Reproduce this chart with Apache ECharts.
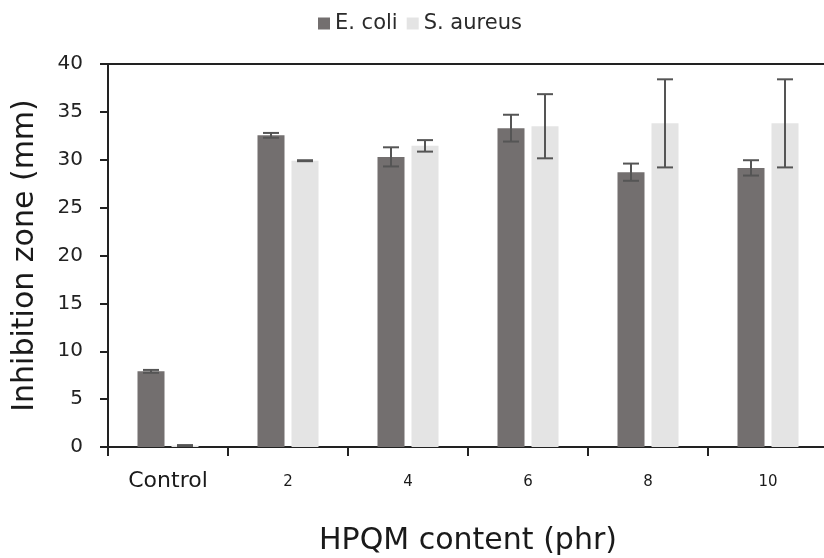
<!DOCTYPE html>
<html>
<head>
<meta charset="utf-8">
<script src="https://cdn.jsdelivr.net/npm/echarts@6/dist/echarts.min.js"></script>
<style>html,body{margin:0;padding:0;background:#fff}#c{width:824px;height:558px}</style>
</head>
<body>
<div id="c"></div>
<script>
const categories = ['Control', '2', '4', '6', '8', '10'];
const ecoli = [7.9, 32.55, 30.3, 33.3, 28.7, 29.15];
const ecoliErr = [0.15, 0.25, 1.0, 1.4, 0.9, 0.8];
const saureus = [0.15, 29.9, 31.45, 33.5, 33.8, 33.8];
const saureusErr = [0.05, 0.05, 0.6, 3.35, 4.6, 4.6];
const yTicks = [0, 5, 10, 15, 20, 25, 30, 35, 40];

const FONT = 'DejaVu Sans';
const BAR_W = 27, GAP = 7;
const chart = echarts.init(document.getElementById('c'), null, {renderer: 'canvas'});

function errSeries(name, vals, errs, side) {
  return {
    type: 'custom', name: name + ' err', silent: true, z: 5,
    data: vals.map((v, i) => [i, v, errs[i]]),
    renderItem: function (params, api) {
      const i = api.value(0), v = api.value(1), e = api.value(2);
      const off = side * (BAR_W + GAP) / 2;
      const hi = api.coord([i, v + e]);
      const lo = api.coord([i, v - e]);
      const x = hi[0] + off, cw = 8;
      const st = {stroke: '#555', lineWidth: 2};
      return {type: 'group', children: [
        {type: 'line', shape: {x1: x, y1: hi[1], x2: x, y2: lo[1]}, style: st},
        {type: 'line', shape: {x1: x - cw, y1: hi[1], x2: x + cw, y2: hi[1]}, style: st},
        {type: 'line', shape: {x1: x - cw, y1: lo[1], x2: x + cw, y2: lo[1]}, style: st}
      ]};
    }
  };
}

chart.setOption({
  animation: false,
  textStyle: {fontFamily: FONT},
  legend: {
    left: 313, top: 8, itemWidth: 12, itemHeight: 12, itemGap: 9,
    icon: 'rect',
    textStyle: {fontFamily: FONT, fontSize: 21, color: '#2a2a2a'},
    data: ['E. coli', 'S. aureus']
  },
  grid: {left: 108, top: 64, width: 720, height: 383, outerBoundsMode: 'none', containLabel: false},
  xAxis: [{
    type: 'category', data: categories, position: 'bottom',
    axisLine: {lineStyle: {color: '#222', width: 2}},
    axisTick: {show: true, length: 9, lineStyle: {color: '#222', width: 2}},
    axisLabel: {
      margin: 22, color: '#222', fontFamily: FONT,
      formatter: v => v === 'Control' ? '{c|' + v + '}' : '{n|' + v + '}',
      rich: {
        c: {fontSize: 22, lineHeight: 24, fontFamily: FONT, color: '#1a1a1a'},
        n: {fontSize: 15, lineHeight: 16, padding: [10, 0, 0, 0], fontFamily: FONT, color: '#1a1a1a'}
      }
    },
    name: 'HPQM content (phr)', nameLocation: 'middle', nameGap: 79,
    nameTextStyle: {fontFamily: FONT, fontSize: 30, color: '#1a1a1a'}
  }, {
    type: 'category', data: categories, position: 'top',
    axisLine: {show: true, lineStyle: {color: '#222', width: 2}},
    axisTick: {show: false}, axisLabel: {show: false}
  }],
  yAxis: {
    type: 'value', min: yTicks[0], max: yTicks[yTicks.length - 1], interval: 5,
    axisLine: {show: true, lineStyle: {color: '#222', width: 2}},
    axisTick: {show: true, length: 8, lineStyle: {color: '#222', width: 2}},
    splitLine: {show: false},
    axisLabel: {margin: 25, fontSize: 20, color: '#222', fontFamily: FONT},
    name: 'Inhibition zone (mm)', nameLocation: 'middle', nameGap: 68, nameRotate: 90,
    nameTextStyle: {fontFamily: FONT, fontSize: 30, color: '#1a1a1a'}
  },
  series: [
    {name: 'E. coli', type: 'bar', data: ecoli, barWidth: BAR_W, barGap: (GAP / BAR_W * 100) + '%',
     itemStyle: {color: '#736f6f'}},
    {name: 'S. aureus', type: 'bar', data: saureus, barWidth: BAR_W,
     itemStyle: {color: '#e4e4e4'}},
    errSeries('E. coli', ecoli, ecoliErr, -1),
    errSeries('S. aureus', saureus, saureusErr, 1)
  ]
});
</script>
</body>
</html>
